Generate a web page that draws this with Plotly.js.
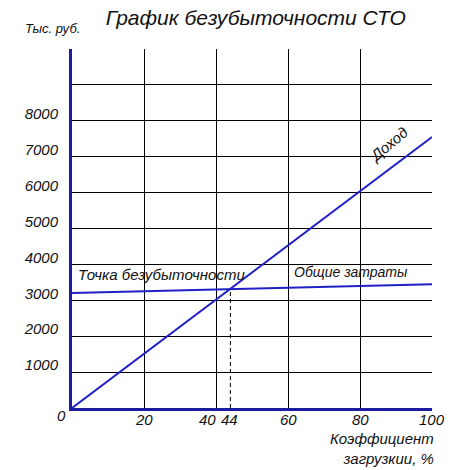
<!DOCTYPE html>
<html>
<head>
<meta charset="utf-8">
<script src="https://cdn.plot.ly/plotly-3.0.1.min.js"></script>
<style>
  html, body { margin: 0; padding: 0; background: #fff; }
  #chart { width: 455px; height: 470px; }
</style>
</head>
<body>
<div id="chart"></div>
<script>
// Load factor, % (ends of the straight lines)
const loadPct = [0, 100];
// Revenue and total costs, thousand rubles
const revenue = [0, 7550];
const totalCosts = [3200, 3450];
// Break-even load factor, %
const breakEven = 44;

// Axis grid and tick labels
const xGridVals = [20, 40, 60, 80, 100];
const xTickVals = [20, 40, 44, 60, 80, 100];
const xTickText = ['20', '40', '44', '60', '80', '100'];
const yTickVals = [1000, 2000, 3000, 4000, 5000, 6000, 7000, 8000, 9000, 10000];
const yTickText = ['1000', '2000', '3000', '4000', '5000', '6000', '7000', '8000', '', ''];

// Texts
const titleText = 'График безубыточности СТО';
const yUnitText = 'Тыс. руб.';
const xTitleText = 'Коэффициент<br>загрузкии, %';
const revenueLabel = 'Доход';
const costsLabel = 'Общие затраты';
const breakEvenLabel = 'Точка безубыточности';

const FONT = 'Liberation Sans, Arial, sans-serif';
const ink = '#111';
const lineBlue = '#2020c8';
const axisBlue = '#1c1ca0';

function lerp(xs, ys, x) {
  return ys[0] + (ys[1] - ys[0]) * (x - xs[0]) / (xs[1] - xs[0]);
}
const beY = lerp(loadPct, totalCosts, breakEven);

const traces = [
  {
    x: loadPct, y: revenue, mode: 'lines', name: revenueLabel,
    line: { color: lineBlue, width: 2 }, hoverinfo: 'skip'
  },
  {
    x: loadPct, y: totalCosts, mode: 'lines', name: costsLabel,
    line: { color: lineBlue, width: 2 }, hoverinfo: 'skip'
  },
  {
    x: [breakEven, breakEven], y: [0, beY], mode: 'lines',
    line: { color: '#000', width: 1, dash: '4px,3px' }, hoverinfo: 'skip'
  }
];

const italic = (size) => ({ family: FONT, size: size, color: ink, style: 'italic' });

// x tick labels as annotations; a label crowded by the next one is set to its left
const xLabelAnns = xTickVals.map((v, i) => {
  const next = xTickVals[i + 1];
  const prev = xTickVals[i - 1];
  const crowdedRight = next !== undefined && next - v < 10;
  const crowdedLeft = prev !== undefined && v - prev < 10;
  return {
    text: xTickText[i], xref: 'x', yref: 'paper', x: v, y: 0,
    xanchor: crowdedRight ? 'right' : 'center', yanchor: 'top',
    xshift: crowdedRight ? 2 : (crowdedLeft ? -1 : 0), yshift: -1,
    showarrow: false, font: italic(15)
  };
});

const layout = {
  width: 455, height: 470,
  margin: { l: 72, r: 23, t: 49, b: 62 },
  paper_bgcolor: '#fff', plot_bgcolor: '#fff',
  showlegend: false,
  title: {
    text: titleText, font: italic(21),
    x: 0.562, xanchor: 'center', y: 0.962, yanchor: 'middle'
  },
  xaxis: {
    range: [0, 100], tickvals: xGridVals, showticklabels: false,
    showgrid: true, gridcolor: '#000', gridwidth: 1,
    zeroline: false, showline: true, linecolor: axisBlue, linewidth: 3,
    ticks: '', fixedrange: true
  },
  yaxis: {
    range: [0, 10000], tickvals: yTickVals, ticktext: yTickText,
    showgrid: true, gridcolor: '#000', gridwidth: 1,
    zeroline: false, showline: true, linecolor: axisBlue, linewidth: 3,
    ticks: '', tickfont: italic(15), ticklabelshift: -7, ticklabelstandoff: 8,
    fixedrange: true
  },
  annotations: xLabelAnns.concat([
    { text: '0', xref: 'paper', yref: 'paper', x: -0.012, y: 0, xanchor: 'right', yanchor: 'top',
      yshift: 3, showarrow: false, font: italic(15) },
    { text: yUnitText, xref: 'paper', yref: 'paper', x: -0.053, y: 1.058, xanchor: 'center', yanchor: 'middle',
      showarrow: false, font: italic(13) },
    { text: xTitleText, xref: 'paper', yref: 'paper', x: 1.012, y: -0.055, xanchor: 'right', yanchor: 'top',
      align: 'right', showarrow: false, font: italic(15) },
    { text: breakEvenLabel, xref: 'x', yref: 'y', x: 1.2, y: 3720, xanchor: 'left', yanchor: 'middle',
      showarrow: false, font: italic(15) },
    { text: costsLabel, xref: 'x', yref: 'y', x: 61, y: 3780, xanchor: 'left', yanchor: 'middle',
      showarrow: false, font: italic(14) },
    { text: revenueLabel, xref: 'x', yref: 'y', x: 87.8, y: 7350, xanchor: 'center', yanchor: 'middle',
      textangle: -40, showarrow: false, font: italic(15) }
  ])
};

Plotly.newPlot('chart', traces, layout, { staticPlot: true, displayModeBar: false });
</script>
</body>
</html>
